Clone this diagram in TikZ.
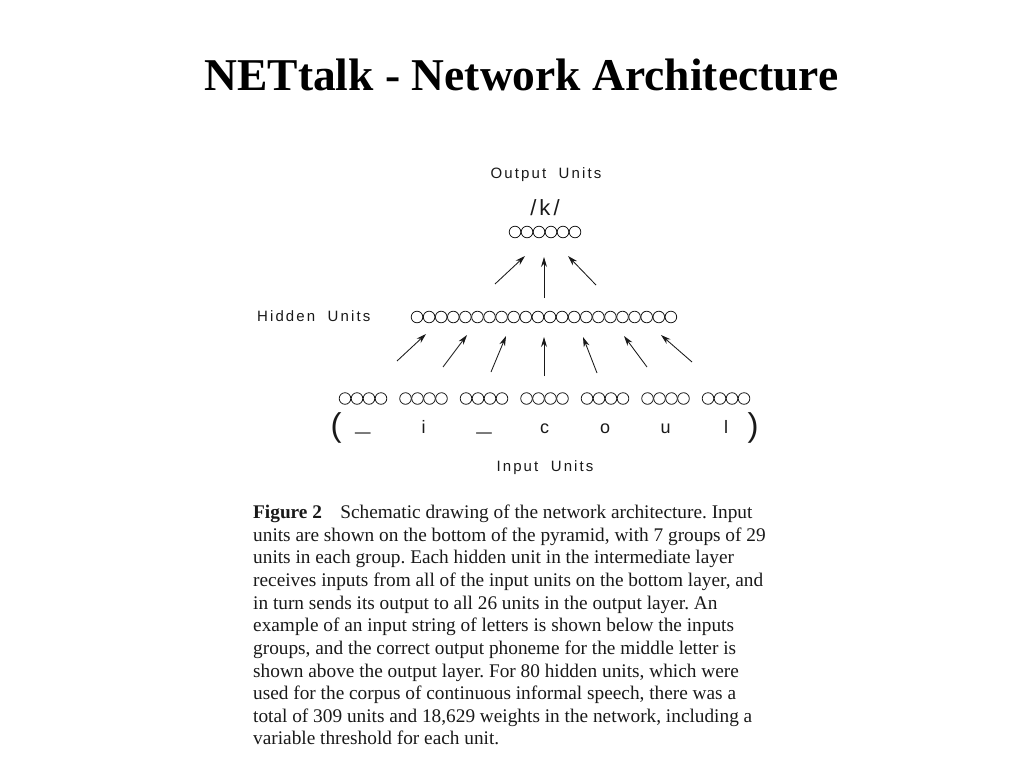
\documentclass[tikz,border=0pt]{standalone}
\usepackage{fontspec}
\setmainfont{Liberation Serif}
\setsansfont{Liberation Sans}
\newfontfamily\unitfont[LetterSpace=14]{Liberation Sans}
\usetikzlibrary{arrows.meta,positioning}
\definecolor{xink}{RGB}{25,25,25}
\definecolor{xtitle}{RGB}{0,0,0}

\begin{document}
\begin{tikzpicture}[x=1pt, y=-1pt,
  unit/.style={draw=xink, circle, line width=0.8pt,
               minimum size=11.6pt, inner sep=0pt},
  layerlabel/.style={font=\fontsize{15}{18}\selectfont\unitfont, text=xink,
                     inner sep=0pt},
  letter/.style={font=\fontsize{18}{20}\selectfont\sffamily, text=xink,
                 anchor=base, inner sep=0pt},
  paren/.style={font=\fontsize{33}{35}\selectfont\sffamily, text=xink,
                anchor=base, inner sep=0pt},
  arrow/.style={-{Stealth[length=10pt, width=6pt]}, line width=0.85pt, color=xink}
]
  \useasboundingbox (0,0) rectangle (1024,768);

  \node[font=\fontsize{45.5}{50}\selectfont\bfseries, text=xtitle, anchor=base]
    (title) at (521.5,90) {NETtalk - Network Architecture};

  \node[layerlabel] (outlbl) at (546,175) {Output~ Units};
  \node[font=\fontsize{22}{24}\selectfont\unitfont, text=xink, inner sep=0pt]
    (phoneme) at (545,208) {/k/};
  \foreach \i in {1,...,6}
    \node[unit] (out\i) at ({509+6+12*(\i-1)},232) {};

  \node[layerlabel, anchor=west] (hidlbl) at (257,316) {Hidden~ Units};
  \foreach \i in {1,...,22}
    \node[unit] (hid\i) at ({411+6+12.09*(\i-1)},317) {};

  \foreach \g in {1,...,7}
    \foreach \k in {1,...,4}
      \node[unit] (in\g-\k) at ({339+6+60.5*(\g-1)+12*(\k-1)},398.5) {};

  \node[paren] (lpar) at (336,436) {(};
  \node[paren] (rpar) at (753,436) {)};
  \foreach \g/\c in {1/\raisebox{3pt}{\scalebox{1.5}[1]{\_}}, 2/i,
                     3/\raisebox{3pt}{\scalebox{1.5}[1]{\_}}, 4/c, 5/o, 6/u, 7/l}
    \node[letter] (ch\g) at ({363+60.5*(\g-1)},433) {\c};

  \node[layerlabel] (inlbl) at (545,468) {Input~ Units};

  \foreach \n/\tx/\ty/\hx/\hy in {1/495/284/525/256, 2/544/298/544/257,
                                  3/596/285/568/256}
  {
    \coordinate (ot\n) at (\tx,\ty);
    \coordinate (oh\n) at (\hx,\hy);
    \draw[arrow] (ot\n) -- (oh\n);
  }
  \foreach \n/\tx/\ty/\hx/\hy in {1/397/361/426/334, 2/443/367/467/335,
                                  3/491/372/506/336, 4/544/376/544/337,
                                  5/597/373/583/337, 6/647/367/624/336,
                                  7/692/362/661/335}
  {
    \coordinate (it\n) at (\tx,\ty);
    \coordinate (ih\n) at (\hx,\hy);
    \draw[arrow] (it\n) -- (ih\n);
  }

  \node[anchor=north west, align=left, inner sep=0pt,
        font=\fontsize{19.3}{22.6}\selectfont\frenchspacing, text=xink]
    (caption) at (253,505)
    {\textbf{Figure 2}\hspace{0.7em} Schematic drawing of the network architecture. Input\\
     units are shown on the bottom of the pyramid, with 7 groups of 29\\
     units in each group. Each hidden unit in the intermediate layer\\
     receives inputs from all of the input units on the bottom layer, and\\
     in turn sends its output to all 26 units in the output layer. An\\
     example of an input string of letters is shown below the inputs\\
     groups, and the correct output phoneme for the middle letter is\\
     shown above the output layer. For 80 hidden units, which were\\
     used for the corpus of continuous informal speech, there was a\\
     total of 309 units and 18,629 weights in the network, including a\\
     variable threshold for each unit.};
\end{tikzpicture}
\end{document}
